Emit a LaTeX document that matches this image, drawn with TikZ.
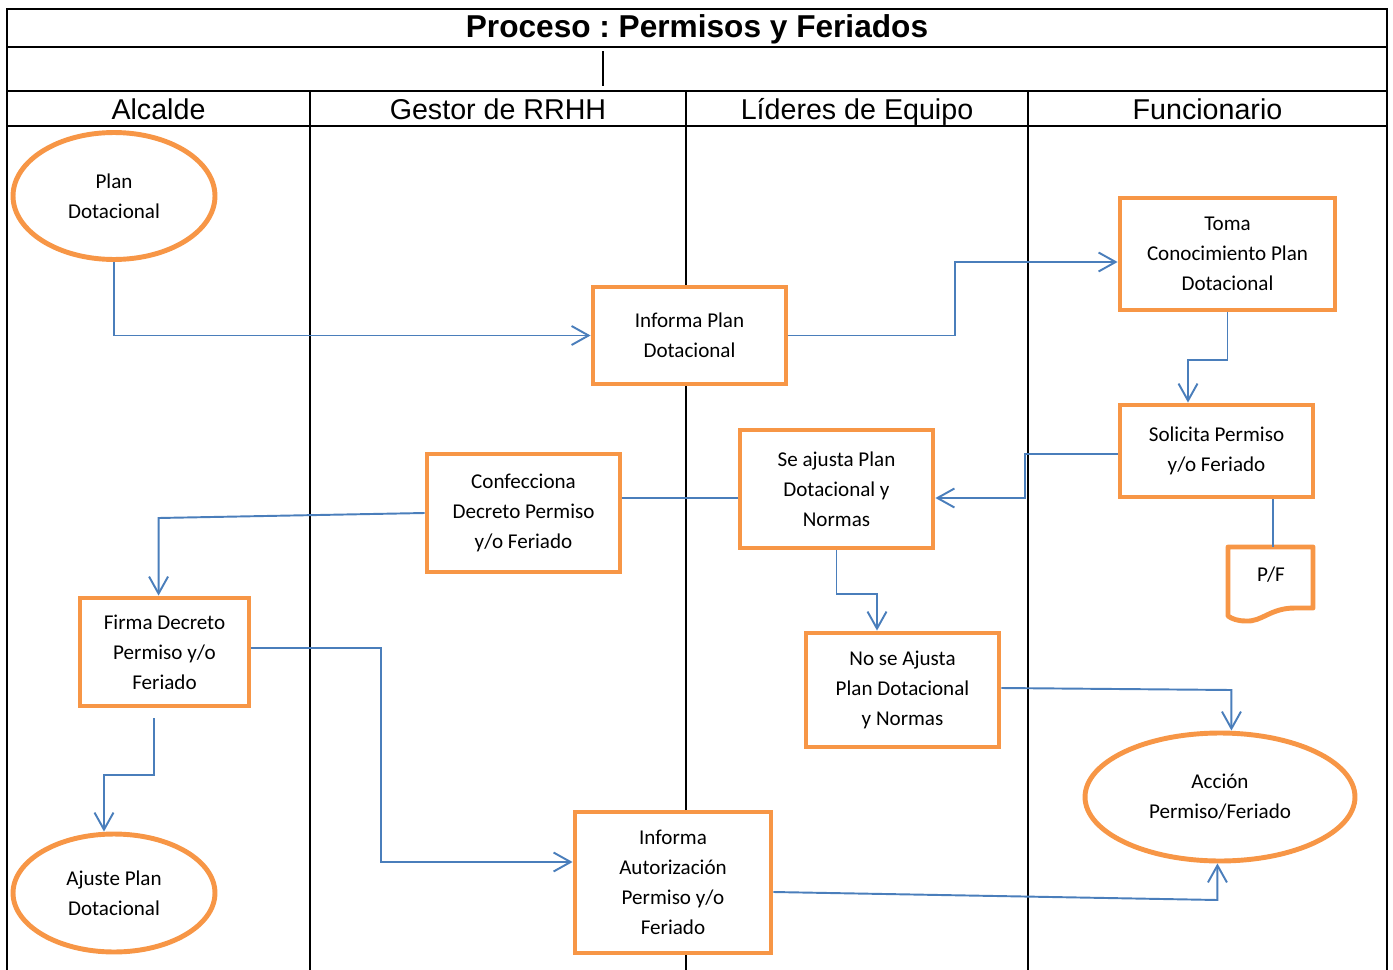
\documentclass[tikz,border=0pt]{standalone}
\usepackage{fontspec}
\setmainfont{Carlito}
\newfontfamily\arialfont{Liberation Sans}
\usepackage{tikz}
\usetikzlibrary{arrows.meta,calc,shapes.geometric}
\definecolor{boxorange}{HTML}{F79646}
\definecolor{linkblue}{HTML}{4A7EBB}
\frenchspacing

\begin{document}
\begin{tikzpicture}[x=0.02cm, y=-0.02cm,
    lane/.style={line width=1.1pt, black},
    proc/.style={draw=boxorange, fill=white, line width=2.8pt, rectangle, align=center,
      inner sep=0pt, font=\fontsize{12}{17}\selectfont},
    term/.style={draw=boxorange, fill=white, line width=2.8pt, ellipse, align=center,
      inner sep=0pt, font=\fontsize{12}{17}\selectfont},
    link/.style={draw=linkblue, line width=1.1pt},
    flow/.style={link, -{Straight Barb[length=3.4mm,width=3.8mm]}},
    lanetitle/.style={anchor=base, font=\arialfont\fontsize{16.3}{19}\selectfont}]
    \useasboundingbox (0,0) rectangle (1393,970);
    \clip (0,0) rectangle (1393,970);
    %% Frame and lanes
    \draw[lane] (7,980) -- (7,9) -- (1387,9) -- (1387,980);
    \draw[lane] (7,47) -- (1387,47) (7,91) -- (1387,91) (7,126) -- (1387,126);
    \draw[lane] (310,91) -- (310,980) (686,91) -- (686,980) (1028,91) -- (1028,980);
    \draw[line width=0.8pt] (603,51) -- (603,86);
    \node[anchor=base, font=\arialfont\bfseries\fontsize{18}{21}\selectfont] (title) at (697,37) {Proceso : Permisos y Feriados};
    \node[lanetitle] (alcalde) at (158.5,119) {Alcalde};
    \node[lanetitle] (gestor) at (498,119) {Gestor de RRHH};
    \node[lanetitle] (lideres) at (857,119) {Líderes de Equipo};
    \node[lanetitle] (funcionario) at (1207.5,119) {Funcionario};
    %% Steps
    \node[term, minimum width=4.04cm, minimum height=2.54cm] (plan) at (114,196) {Plan\\Dotacional};
    \node[proc, minimum width=3.86cm, minimum height=1.94cm] (infplan) at (689.5,335.5) {Informa Plan\\Dotacional};
    \node[proc, minimum width=4.3cm, minimum height=2.24cm] (toma) at (1227.5,254) {Toma\\Conocimiento Plan\\Dotacional};
    \node[proc, minimum width=3.86cm, minimum height=1.84cm] (solicita) at (1216.5,451) {Solicita Permiso\\y/o Feriado};
    \node[proc, minimum width=3.86cm, minimum height=2.36cm] (seajusta) at (836.5,489) {Se ajusta Plan\\Dotacional y\\Normas};
    \node[proc, minimum width=3.86cm, minimum height=2.36cm] (confec) at (523.5,513) {Confecciona\\Decreto Permiso\\y/o Feriado};
    \node[proc, minimum width=3.38cm, minimum height=2.16cm] (firma) at (164.5,652) {Firma Decreto\\Permiso y/o\\Feriado};
    \node[proc, minimum width=3.86cm, minimum height=2.28cm] (noajusta) at (902.5,690) {No se Ajusta\\Plan Dotacional\\y Normas};
    \node[term, minimum width=5.4cm, minimum height=2.56cm] (accion) at (1220,797) {Acción\\Permiso/Feriado};
    \node[term, minimum width=4.04cm, minimum height=2.36cm] (ajuste) at (114,893) {Ajuste Plan\\Dotacional};
    \node[proc, minimum width=3.92cm, minimum height=2.82cm] (infaut) at (673,882.5) {Informa\\Autorización\\Permiso y/o\\Feriado};
    %% Document P/F
    \draw[draw=boxorange, fill=white, line width=2.8pt, line join=round] (1228,547) -- (1313,547) -- (1313,608) -- (1295,608)
      .. controls (1270,608) and (1262,622) .. (1246,621)
      .. controls (1238,621) and (1232,619) .. (1228,616) -- cycle;
    \node[font=\fontsize{12}{17}\selectfont] (pf) at (1271,575) {P/F};
    \coordinate (pftop) at (1273,547);
    %% Connectors
    \draw[flow] (plan.south) |- (infplan.west);
    \draw[flow] (infplan.east) -- ++(167,0) |- ([yshift=-0.16cm]toma.west);
    \draw[flow] (toma.south) -- ++(0,48) -| ([xshift=-0.57cm]solicita.north);
    \draw[flow] ([yshift=-0.06cm]solicita.west) -- ++(-93,0) |- ([yshift=-0.18cm]seajusta.east);
    \draw[link] (solicita.south -| pftop) -- (pftop);
    \draw[link] ([yshift=-0.18cm]seajusta.west) coordinate (s1) -- (s1 -| confec.east);
    \draw[flow] (confec.west) -- ++(-266,5) coordinate (c1) -- (c1 |- firma.north);
    \draw[flow] (seajusta.south) -- ++(0,44) -| ([xshift=-0.51cm]noajusta.north);
    \draw[flow] ([yshift=0.04cm]noajusta.east) -- ++(230,2) coordinate (n1) -- (n1 |- accion.north);
    \draw[flow] ([yshift=0.08cm]firma.east) -- ++(130,0) |- ([yshift=0.41cm]infaut.west);
    \draw[flow] ([xshift=-0.21cm,yshift=-0.2cm]firma.south) -- ++(0,57) -| ([xshift=-0.2cm]ajuste.north);
    \draw[flow] ([yshift=-0.19cm]infaut.east) -- ++(444,8) coordinate (i1) -- (i1 |- accion.south);
\end{tikzpicture}
\end{document}
